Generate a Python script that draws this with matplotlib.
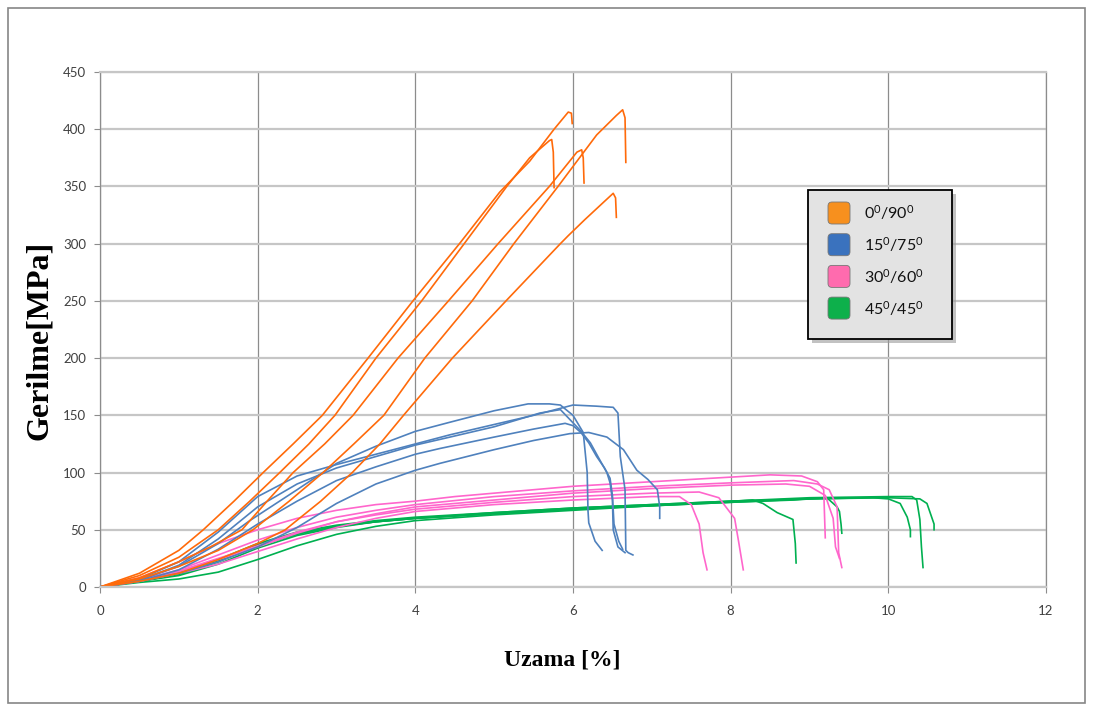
import matplotlib
matplotlib.use('Agg')
import matplotlib.pyplot as plt
from matplotlib.patches import Rectangle, FancyBboxPatch
from matplotlib.transforms import IdentityTransform

plt.rcParams['font.family'] = ['Lato', 'DejaVu Sans']
plt.rcParams['mathtext.fontset'] = 'custom'
plt.rcParams['mathtext.rm'] = 'Lato'
plt.rcParams['mathtext.it'] = 'Lato'

# Data: strain [%] vs stress [MPa], five specimens per orientation
orange_x = [
    [0, 0.5, 1.0, 1.31, 1.7, 2.07, 2.45, 2.82, 3.40, 3.97, 4.56, 5.07, 5.45, 5.76, 5.94, 5.98, 5.99],
    [0, 0.5, 1.0, 1.5, 1.9, 2.28, 2.65, 2.98, 3.50, 4.08, 4.62, 5.16, 5.45, 5.70, 5.73, 5.75, 5.76],
    [0, 0.5, 1.0, 1.4, 1.80, 2.12, 2.45, 2.85, 3.21, 3.78, 4.42, 5.05, 5.70, 6.05, 6.11, 6.13, 6.14],
    [0, 0.5, 1.0, 1.5, 1.94, 2.4, 2.83, 3.22, 3.60, 4.12, 4.72, 5.25, 5.81, 6.30, 6.55, 6.63, 6.66, 6.67],
    [0, 0.5, 1.0, 1.5, 2.0, 2.35, 2.8, 3.2, 3.55, 3.85, 4.47, 5.15, 5.84, 5.94, 6.15, 6.40, 6.51, 6.54, 6.55],
]
orange_y = [
    [0, 12, 32, 50, 75, 100, 125, 150, 200, 250, 300, 345, 372, 400, 415, 414, 405],
    [0, 10, 26, 50, 75, 100, 125, 150, 200, 250, 300, 350, 375, 390, 391, 380, 349],
    [0, 8, 22, 35, 50, 75, 100, 125, 150, 200, 250, 300, 350, 380, 382, 375, 353],
    [0, 7, 18, 32, 50, 75, 100, 125, 150, 200, 250, 300, 350, 395, 412, 417, 410, 371],
    [0, 5, 12, 24, 38, 50, 75, 100, 125, 150, 200, 250, 300, 307, 321, 337, 344, 340, 323],
]

blue_x = [
    [0, 0.5, 1.0, 1.5, 1.9, 2.5, 3.0, 3.5, 4.0, 4.44, 5.0, 5.43, 5.7, 5.84, 6.0, 6.13, 6.18, 6.19, 6.2, 6.28, 6.37],
    [0, 0.5, 1.0, 1.5, 2.0, 2.5, 3.0, 3.5, 4.0, 4.44, 5.0, 5.5, 6.0, 6.3, 6.51, 6.57, 6.6, 6.66, 6.67, 6.7, 6.76],
    [0, 0.5, 1.0, 1.5, 2.0, 2.5, 3.0, 3.5, 4.0, 4.44, 5.0, 5.58, 5.84, 6.09, 6.22, 6.34, 6.43, 6.47, 6.5, 6.51, 6.57, 6.66],
    [0, 0.5, 1.0, 1.5, 2.0, 2.5, 3.0, 3.5, 4.0, 4.31, 5.0, 5.5, 5.9, 6.0, 6.1, 6.2, 6.3, 6.4, 6.47, 6.5, 6.52, 6.58, 6.63],
    [0, 0.5, 1.0, 1.5, 2.0, 2.5, 3.0, 3.5, 4.0, 4.31, 5.0, 5.5, 5.96, 6.2, 6.43, 6.64, 6.81, 6.95, 7.07, 7.1, 7.1],
]
blue_y = [
    [0, 6, 18, 38, 58, 85, 108, 123, 136, 144, 154, 160, 160, 159, 150, 135, 100, 67, 56, 40, 32],
    [0, 7, 22, 48, 79, 97, 107, 116, 125, 133, 142, 150, 159, 158, 157, 152, 114, 85, 32, 30, 28],
    [0, 6, 19, 42, 70, 90, 104, 114, 124, 131, 140, 152, 155, 137, 126, 111, 100, 91, 76, 50, 35, 30],
    [0, 5, 15, 33, 55, 75, 93, 105, 116, 121, 131, 138, 143, 141, 135, 126, 114, 104, 95, 80, 55, 40, 33],
    [0, 5, 12, 22, 35, 52, 73, 90, 102, 108, 120, 128, 134, 135, 131, 120, 102, 94, 85, 70, 60],
]

pink_x = [
    [0, 0.5, 1, 1.5, 2, 2.5, 3, 3.5, 4, 5, 6, 7, 7.35, 7.5, 7.6, 7.65, 7.7],
    [0, 0.5, 1, 1.5, 2, 2.5, 3, 3.5, 4, 5, 6, 7, 7.6, 7.85, 8.05, 8.1, 8.16],
    [0, 0.5, 1, 1.5, 2, 2.5, 3, 3.5, 4, 4.5, 5, 6, 7, 8, 8.5, 8.9, 9.1, 9.18, 9.2],
    [0, 0.5, 1, 1.5, 2, 2.5, 3, 3.5, 4, 5, 6, 7, 8, 8.8, 9.1, 9.25, 9.35, 9.37, 9.41],
    [0, 0.5, 1, 1.5, 2, 2.5, 3, 3.5, 4, 5, 6, 7, 8, 8.7, 9.0, 9.2, 9.3, 9.33, 9.38],
]
pink_y = [
    [0, 5, 12, 20, 31, 42, 52, 60, 66, 72, 76, 79, 79, 72, 55, 30, 15],
    [0, 6, 14, 25, 36, 48, 57, 63, 68, 74, 79, 82, 83, 78, 60, 40, 15],
    [0, 8, 22, 38, 50, 60, 67, 72, 75, 79, 82, 88, 92, 96, 98, 97, 92, 85, 43],
    [0, 6, 15, 28, 41, 52, 61, 67, 72, 79, 84, 88, 91, 93, 90, 85, 70, 30, 17],
    [0, 5, 13, 24, 35, 47, 57, 64, 70, 76, 82, 86, 89, 90, 88, 80, 60, 35, 25],
]

green_x = [
    [0, 0.5, 1, 1.5, 2, 2.5, 3, 3.5, 4, 5, 6, 7, 7.8, 8.28, 8.41, 8.59, 8.79, 8.82, 8.83],
    [0, 0.5, 1, 1.5, 2, 2.5, 3, 3.5, 4, 5, 6, 7, 8, 9, 9.8, 10.0, 10.15, 10.24, 10.28, 10.28],
    [0, 0.5, 1, 1.5, 2, 2.5, 3, 3.5, 4, 5, 6, 7, 8, 9, 10.0, 10.3, 10.36, 10.4, 10.42, 10.44],
    [0, 0.5, 1, 1.5, 2, 2.5, 3, 3.5, 4, 5, 6, 7, 8, 9, 10.0, 10.4, 10.49, 10.55, 10.58, 10.58],
    [0, 0.5, 1, 1.5, 2, 2.5, 3, 3.5, 4, 5, 6, 7, 8, 8.8, 9.22, 9.35, 9.38, 9.4, 9.41],
]
green_y = [
    [0, 5, 11, 22, 37, 47, 53, 57, 60, 64, 68, 71, 74, 76, 73, 65, 59, 38, 21],
    [0, 6, 13, 24, 38, 48, 54, 58, 61, 65, 69, 72, 75, 77, 78, 77, 73, 61, 50, 44],
    [0, 5, 10, 20, 34, 45, 52, 57, 60, 65, 69, 72, 75, 78, 79, 79, 76, 59, 35, 17],
    [0, 5, 12, 23, 36, 46, 53, 57, 60, 64, 68, 71, 74, 77, 78, 77, 73, 61, 55, 50],
    [0, 4, 7, 13, 24, 36, 46, 53, 58, 63, 67, 71, 74, 76, 78, 70, 66, 55, 47],
]

labels = ['0$^0$/90$^0$', '15$^0$/75$^0$', '30$^0$/60$^0$', '45$^0$/45$^0$']
line_colors = ['#FF6A0A', '#4F81BD', '#FF66CC', '#00B050']
swatch_colors = ['#F7901E', '#3A72BE', '#FF6BAE', '#0DB04B']
groups = [(orange_x, orange_y), (blue_x, blue_y), (pink_x, pink_y), (green_x, green_y)]

W, H = 1093, 711
fig = plt.figure(figsize=(W / 100, H / 100), dpi=100)
ax = fig.add_axes([100 / W, 1 - 587 / H, 946 / W, 515 / H])

# draw green first so orange ends up on top like the original
for (xs, ys), c in reversed(list(zip(groups, line_colors))):
    for x, y in zip(xs, ys):
        ax.plot(x, y, color=c, lw=1.2, solid_joinstyle='round')

ax.set_xlim(0, 12)
ax.set_ylim(0, 450)
ax.set_xticks(range(0, 13, 2))
ax.set_yticks(range(0, 451, 50))
ax.yaxis.grid(True, color='#c6c6c6', lw=1.6)
ax.xaxis.grid(True, color='#8c8c8c', lw=0.9)
ax.set_axisbelow(True)
for s in ['top', 'bottom']:
    ax.spines[s].set_color('#c6c6c6')
    ax.spines[s].set_linewidth(1.6)
for s in ['left', 'right']:
    ax.spines[s].set_color('#8c8c8c')
    ax.spines[s].set_linewidth(0.9)
ax.tick_params(axis='both', colors='#8c8c8c', labelcolor='#404040', labelsize=9.5, length=4)
ax.tick_params(axis='x', pad=9)
ax.tick_params(axis='y', pad=6)

fig.text(40 / W, 1 - 340 / H, 'Gerilme[MPa]', rotation=90, ha='center', va='center',
         family='Liberation Serif', weight='bold', fontsize=23)
fig.text(562 / W, 1 - 660 / H, 'Uzama [%]', ha='center', va='center',
         family='Liberation Serif', weight='bold', fontsize=17)

# outer chart frame
fig.add_artist(Rectangle((8, H - 703), 1077, 695, transform=IdentityTransform(),
                         fill=False, edgecolor='#868686', lw=1.2))

# legend box with shadow
lx0, ly0, lx1, ly1 = 808, 190, 952, 339
fig.add_artist(Rectangle((lx0 + 4, H - ly1 - 4), lx1 - lx0, ly1 - ly0, transform=IdentityTransform(),
                         facecolor='#9a9a9a', edgecolor='none', alpha=0.6))
fig.add_artist(Rectangle((lx0, H - ly1), lx1 - lx0, ly1 - ly0, transform=IdentityTransform(),
                         facecolor='#e3e3e3', edgecolor='black', lw=1.3))
for i, (lab, sc) in enumerate(zip(labels, swatch_colors)):
    cy = 213 + i * 31.7
    fig.add_artist(FancyBboxPatch((830, H - cy - 9), 18, 18, boxstyle='round,pad=2,rounding_size=4',
                                  transform=IdentityTransform(), facecolor=sc, edgecolor='#777777', lw=0.6))
    fig.text(864 / W, 1 - cy / H, lab, ha='left', va='center', fontsize=11.5, color='#111111')

fig.savefig('out.png', dpi=100)
